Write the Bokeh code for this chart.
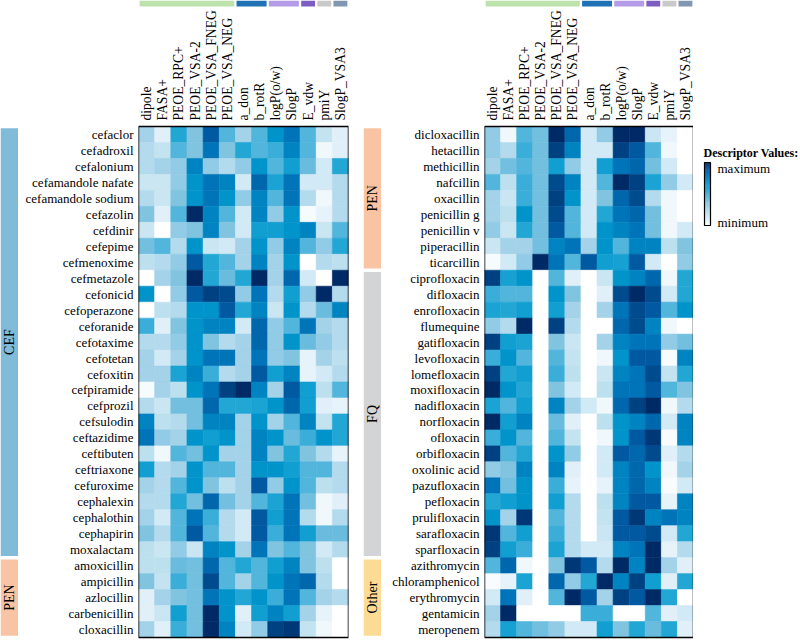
import numpy as np
from bokeh.plotting import figure
from bokeh.layouts import row
from bokeh.models import ColumnDataSource, LinearColorMapper, Range1d, FixedTicker
from bokeh.transform import transform
from bokeh.core.properties import value
from bokeh.embed import file_html
from bokeh.resources import INLINE

FONT = "Liberation Serif"

# ---------------- data ----------------
descriptors = ["dipole", "FASA+", "PEOE_RPC+", "PEOE_VSA-2", "PEOE_VSA_FNEG",
               "PEOE_VSA_NEG", "a_don", "b_rotR", "logP(o/w)", "SlogP",
               "E_vdw", "pmiY", "SlogP_VSA3"]
descriptor_group = ["A", "A", "A", "A", "A", "A", "B", "B", "C", "C", "D", "E", "F"]
descriptor_group_colors = {"A": "#bde2ab", "B": "#1f72b6", "C": "#b39be8",
                           "D": "#7d5cc3", "E": "#c9c9c9", "F": "#7f97b1"}

class_colors = {"CEF": "#80bcd8", "PEN": "#f8c4a4", "FQ": "#d2d4d5", "Other": "#fcdc94"}

left_drugs = ["cefaclor", "cefadroxil", "cefalonium", "cefamandole nafate",
              "cefamandole sodium", "cefazolin", "cefdinir", "cefepime",
              "cefmenoxime", "cefmetazole", "cefonicid", "cefoperazone",
              "ceforanide", "cefotaxime", "cefotetan", "cefoxitin",
              "cefpiramide", "cefprozil", "cefsulodin", "ceftazidime",
              "ceftibuten", "ceftriaxone", "cefuroxime", "cephalexin",
              "cephalothin", "cephapirin", "moxalactam", "amoxicillin",
              "ampicillin", "azlocillin", "carbenicillin", "cloxacillin"]
left_classes = ["CEF"] * 27 + ["PEN"] * 5

right_drugs = ["dicloxacillin", "hetacillin", "methicillin", "nafcillin",
               "oxacillin", "penicillin g", "penicillin v", "piperacillin",
               "ticarcillin", "ciprofloxacin", "difloxacin", "enrofloxacin",
               "flumequine", "gatifloxacin", "levofloxacin", "lomefloxacin",
               "moxifloxacin", "nadifloxacin", "norfloxacin", "ofloxacin",
               "orbifloxacin", "oxolinic acid", "pazufloxacin", "pefloxacin",
               "prulifloxacin", "sarafloxacin", "sparfloxacin", "azithromycin",
               "chloramphenicol", "erythromycin", "gentamicin", "meropenem"]
right_classes = ["PEN"] * 9 + ["FQ"] * 18 + ["Other"] * 5

# relative descriptor values (0 = minimum, 10 = maximum), one row per drug
left_values = [
    [3, 1, 6, 4, 9, 5, 3, 5, 7, 8, 5, 2, 1],
    [2.5, 2, 5, 4, 8, 4, 6, 5, 5.5, 7.5, 5, 0.5, 1],
    [2.5, 3, 3.5, 7.5, 3.5, 2.5, 3.5, 7, 5, 6.5, 4.5, 1.5, 6],
    [1.8, 1.8, 3.5, 7, 8, 7.5, 1.5, 8.5, 6.2, 8, 1.5, 1.5, 2.5],
    [2.5, 1.8, 4, 7, 8, 7, 3.5, 7.5, 5, 8, 2.5, 0.5, 2.5],
    [4, 1, 5, 10, 7.5, 5, 1.5, 7.5, 3.5, 7, 0.3, 0.8, 2.5],
    [1.8, 0, 3.5, 4, 7.5, 4, 1.5, 6.5, 6.5, 7, 7.5, 1.8, 5],
    [4.3, 5, 2.5, 7, 1.8, 1.5, 3, 7, 3.5, 7.5, 5, 3.5, 6],
    [2.2, 2.5, 3.5, 9, 6, 5, 3, 7.5, 3, 7, 0, 2.5, 2.2],
    [0, 3, 4, 10, 6, 4.5, 6, 10, 3, 8.5, 1.5, 0, 10],
    [7, 0, 3.5, 9, 9.5, 9.3, 3.5, 8, 2.5, 6.5, 3.5, 10, 2.5],
    [0, 2.2, 2.5, 7, 7, 9, 6, 7.5, 1.8, 7, 2.5, 4.5, 7.5],
    [5.5, 1, 4, 7, 7.5, 7.5, 1.5, 8.5, 3.5, 5, 8, 3, 2.5],
    [2.5, 2.5, 3.5, 7, 4, 2.5, 3, 8.5, 3.5, 7, 4.5, 3.5, 2.5],
    [3, 1.5, 3, 7, 8, 8, 3, 8, 3.5, 4, 0.8, 3, 2.2],
    [3, 3, 6.2, 7.5, 5.5, 2.5, 3, 9, 6.5, 7.5, 0.8, 1.5, 2.5],
    [0.3, 3, 2.2, 7, 8, 9.5, 10, 7.5, 3, 9, 6.5, 2.2, 5],
    [2.5, 1.8, 4.3, 4.3, 8.5, 6, 6, 6.2, 7, 8.5, 6.5, 1, 0.8],
    [7.5, 2.2, 2.5, 4.3, 7.5, 7.5, 3, 7, 3, 5, 7.5, 2, 6],
    [8, 3.5, 3, 7, 6.5, 7, 3, 7.5, 7, 4.5, 5.5, 7, 6],
    [2.2, 0.5, 5, 4.3, 7, 3, 3, 7.5, 4, 6, 4, 2.5, 0.8],
    [6.5, 2.5, 3, 7, 5, 5, 3, 7, 7, 6.5, 5, 5, 2.5],
    [3, 2.5, 5, 7, 4, 2.2, 3, 9, 3.5, 7, 5, 2.2, 2.5],
    [2.5, 2.5, 6, 4.3, 8.5, 4.3, 3, 5, 6.2, 8, 4.3, 0.5, 1],
    [3, 1.5, 5, 8, 5.5, 2.5, 1.5, 9, 6.5, 8, 2.5, 0.5, 2.5],
    [4, 2.5, 5, 9, 5, 2.5, 1.5, 9, 5.5, 8, 6.5, 4.5, 4.5],
    [2.2, 1.8, 3.5, 1.8, 7.5, 7, 3, 8, 4, 5, 4, 1.5, 2.5],
    [2.2, 2.2, 4.5, 4.3, 8.5, 5, 6, 5, 6.5, 7.5, 4, 2.2, 0],
    [4, 2, 5.5, 4.3, 9.3, 5, 3, 5, 7, 8, 8.5, 2.5, 0],
    [1, 3, 4, 4.3, 8, 7, 6, 7, 5.5, 8, 5, 3, 2.5],
    [1, 1.8, 6.5, 4.3, 10, 7, 1, 6.5, 7.5, 6.5, 3, 0.8, 0],
    [3, 1, 5.5, 4.3, 10, 7.5, 1.5, 3.5, 9.5, 9.7, 2, 0.5, 0],
]

right_values = [
    [3.5, 0.5, 5, 4.3, 10, 8.5, 1.5, 3.5, 10, 10, 1.8, 0.8, 0],
    [3.5, 2.5, 5.5, 4.3, 9.5, 7.5, 1.5, 1.5, 9.5, 9, 5, 0.5, 0],
    [3, 4.3, 5, 4.3, 6.5, 3.5, 1.5, 6.5, 8, 8.5, 4.3, 1.5, 0],
    [5, 2.2, 5.5, 4.3, 9.3, 7.5, 1.5, 5, 10, 9.5, 6.2, 3.5, 1.5],
    [3, 1.8, 5.5, 4.3, 9.5, 7, 1.5, 4, 8.5, 9.3, 2.5, 0.5, 0],
    [3, 2.2, 7, 4.3, 9.3, 5, 1.5, 6, 8, 8.5, 4.3, 0.5, 0],
    [3.5, 1.8, 6, 4.3, 9, 5, 1.5, 7, 7.5, 8, 4.3, 0.5, 1.5],
    [1.8, 3, 3, 4.3, 7.5, 8, 3, 7, 5, 7.5, 7.5, 2.2, 4],
    [0.3, 1.5, 3.5, 10, 8, 5, 9, 6.5, 6.3, 9, 1.5, 0, 3.5],
    [9.5, 6.3, 7, 0, 5, 1, 0, 1.8, 7, 7.5, 8.5, 0.5, 6],
    [5.5, 5, 5, 0, 7, 4, 0, 1, 9.3, 10, 9.3, 1.5, 6],
    [6.2, 6, 6.5, 0, 6.5, 3, 0, 3, 8, 9.3, 9, 5, 7],
    [3.5, 2.5, 10, 0, 9.5, 2.5, 0, 0, 8.5, 9.3, 7.5, 0.5, 0],
    [9.5, 6.5, 6.2, 0, 4, 1.8, 0, 3, 7.5, 8, 8, 3.5, 4.3],
    [5.5, 7, 5, 0, 5, 2, 0, 0.5, 7, 9, 9, 0.2, 7.5],
    [9.5, 6, 6.5, 0, 5.5, 2.2, 0, 1.8, 7.5, 8, 9.3, 2, 6],
    [10, 7, 6, 0, 4, 1.5, 0, 2.2, 8, 8, 9, 5, 4],
    [6.2, 5, 6.5, 0, 7.5, 3, 1.5, 0.5, 8.5, 9.5, 10, 0.5, 2.5],
    [10, 6.5, 7.5, 0, 4.5, 1, 0, 2.2, 7, 7.5, 8.5, 1.5, 7.5],
    [5.5, 7, 5, 0, 5, 2, 0, 0.5, 7, 9, 9.7, 0.2, 7.5],
    [9.5, 5, 6, 0, 7, 3.5, 0, 1.5, 9, 8.5, 9.3, 1, 2.5],
    [3.5, 4, 7.5, 0, 7.5, 1, 0, 1.5, 7.5, 8.5, 7, 0.5, 3],
    [8, 4.3, 7, 0, 5.5, 0.8, 0, 0.8, 7.5, 8.5, 7.5, 0.2, 1.5],
    [6, 6.5, 7, 0, 6.5, 2.5, 0, 2.2, 7.5, 9, 9, 0.8, 7.5],
    [7, 3, 9.7, 0, 5, 2.5, 0, 2, 9, 9.7, 7.5, 8, 7.5],
    [9.7, 5, 6.5, 0, 5.5, 2.5, 0, 1.8, 9, 9, 9.3, 1.5, 6],
    [9.5, 6.5, 5.5, 0, 6.2, 2.5, 1.5, 1.5, 7.5, 8, 10, 0.8, 2.5],
    [5, 8.5, 0.5, 0, 4, 9.7, 9, 2.5, 10, 7.5, 10, 3, 1],
    [0.2, 0.8, 6.2, 0, 8.5, 3.5, 6, 10, 7.5, 9.5, 6.5, 1, 6],
    [1.5, 8, 1, 0, 5, 10, 9, 3, 9.5, 9, 10, 6, 0],
    [3, 10, 0, 0, 0, 0, 5.5, 5.5, 0, 0, 5, 1, 1.5],
    [2.5, 6.3, 5, 4.3, 3.5, 1.5, 1.5, 6.5, 4, 6, 4.5, 6, 1],
]

value_low, value_high = 0, 10
anchor_values = [0, 1, 2, 3, 4, 5, 6, 7, 8, 9, 10]
anchor_colors = ["#ffffff", "#e0f0f8", "#c4e3f1", "#a2d2e9", "#80c4e0", "#52b5dc",
                 "#22a7d5", "#0095cb", "#0074b8", "#005aa2", "#002a66"]

# ---------------- palette ----------------
def hex2rgb(h):
    h = h.lstrip("#")
    return [int(h[i:i + 2], 16) for i in (0, 2, 4)]

rgb = np.array([hex2rgb(c) for c in anchor_colors], dtype=float)
steps = np.linspace(value_low, value_high, 256)
palette = []
for s in steps:
    r, g, b = (np.interp(s, anchor_values, rgb[:, k]) for k in range(3))
    palette.append("#%02x%02x%02x" % (int(round(r)), int(round(g)), int(round(b))))
mapper = LinearColorMapper(palette=palette, low=value_low, high=value_high)

# ---------------- layout constants (pixels) ----------------
TOTAL_W = 800
TOTAL_H = 641          # every figure fills the full height, frame = whole height
TOP_BAR_H = 6          # descriptor-class bar at the very top
HEAT_H = 511           # heatmap block height
BOTTOM_PAD = 4         # space below the heatmap
GROUP_W = 18
N_ROWS = len(left_drugs)
ROW_PX = HEAT_H / N_ROWS
Y_START = N_ROWS - 0.5 + BOTTOM_PAD / ROW_PX
Y_END = Y_START - TOTAL_H / ROW_PX       # data value at the top edge of the frame

HL_LEFT, HL_W, HL_RIGHT = 120, 210, 15
HR_LEFT, HR_W, HR_RIGHT = 103, 209, 0


def runs(labels):
    out = []
    start = 0
    for i in range(1, len(labels) + 1):
        if i == len(labels) or labels[i] != labels[start]:
            out.append((labels[start], start, i - 1))
            start = i
    return out


def bare(p):
    p.grid.visible = False
    p.outline_line_color = None
    p.background_fill_color = "white"
    p.border_fill_color = "white"


def heat_panel(drugs, vals, border_left, frame_w, border_right):
    n, m = len(drugs), len(descriptors)
    xs, ys, vs = [], [], []
    for i, rv in enumerate(vals):
        for j, v in enumerate(rv):
            xs.append(j)
            ys.append(i)
            vs.append(v)
    src = ColumnDataSource(dict(x=xs, y=ys, v=vs))
    p = figure(width=border_left + frame_w + border_right, height=TOTAL_H,
               x_range=Range1d(-0.5, m - 0.5), y_range=Range1d(Y_START, Y_END),
               x_axis_location=None, toolbar_location=None, output_backend="svg",
               min_border=0, min_border_left=border_left, min_border_right=border_right)
    bare(p)
    p.rect("x", "y", 1, 1, source=src, fill_color=transform("v", mapper),
           line_color=transform("v", mapper), line_width=0.6)
    p.quad(left=[-0.5], right=[m - 0.5], top=[-0.5], bottom=[n - 0.5],
           fill_color=None, line_color="black", line_width=1.5)

    # descriptor names (rotated) above the heatmap
    p.text(x=list(range(m)), y=[-0.5 - 6 / ROW_PX] * m, text=descriptors,
           angle=np.pi / 2, text_align="left", text_baseline="middle",
           text_font=value(FONT), text_font_size=value("13.6px"), text_color="black")

    # descriptor class bar at the top
    g = 0.07
    segs = runs(descriptor_group)
    p.quad(left=[s - 0.5 + g for _, s, e in segs], right=[e + 0.5 - g for _, s, e in segs],
           top=Y_END, bottom=Y_END + TOP_BAR_H / ROW_PX,
           fill_color=[descriptor_group_colors[k] for k, s, e in segs], line_color=None)

    ya = p.yaxis[0]
    ya.ticker = FixedTicker(ticks=list(range(n)))
    ya.major_label_overrides = {i: d for i, d in enumerate(drugs)}
    ya.axis_line_color = None
    ya.major_tick_line_color = None
    ya.minor_tick_line_color = None
    ya.major_tick_out = 0
    ya.major_tick_in = 0
    ya.minor_tick_out = 0
    ya.major_label_standoff = 5
    ya.major_label_text_font = FONT
    ya.major_label_text_font_size = "13px"
    ya.major_label_text_color = "black"
    return p


def group_panel(classes, y_range):
    gp = figure(width=GROUP_W, height=TOTAL_H, x_range=Range1d(0, 1), y_range=y_range,
                toolbar_location=None, output_backend="svg", x_axis_location=None,
                y_axis_location=None, min_border=0)
    bare(gp)
    g = 0.11
    segs = runs(classes)
    gp.quad(left=0, right=1, top=[s - 0.5 + g for _, s, e in segs],
            bottom=[e + 0.5 - g for _, s, e in segs],
            fill_color=[class_colors[k] for k, s, e in segs], line_color=None)
    gp.text(x=[0.5] * len(segs), y=[(s + e) / 2 for _, s, e in segs],
            text=[k for k, s, e in segs], angle=np.pi / 2, text_align="center",
            text_baseline="middle", text_font=value(FONT),
            text_font_size=value("14px"), text_color="black")
    return gp


hl = heat_panel(left_drugs, left_values, HL_LEFT, HL_W, HL_RIGHT)
hr = heat_panel(right_drugs, right_values, HR_LEFT, HR_W, HR_RIGHT)
gl = group_panel(left_classes, hl.y_range)
gr = group_panel(right_classes, hr.y_range)

# ---------------- legend ----------------
LEG_W = TOTAL_W - (GROUP_W + HL_LEFT + HL_W + HL_RIGHT + GROUP_W + HR_LEFT + HR_W + HR_RIGHT)
lg = figure(width=LEG_W, height=TOTAL_H, x_range=Range1d(0, LEG_W),
            y_range=Range1d(TOTAL_H, 0), toolbar_location=None, output_backend="svg",
            x_axis_location=None, y_axis_location=None, min_border=0)
bare(lg)
bar_left, bar_right, bar_top, bar_bottom = 11, 17, 162, 225
nsteps = 64
lvals = np.linspace(value_low, value_high, nsteps + 1)
edges = bar_bottom - (lvals - value_low) / (value_high - value_low) * (bar_bottom - bar_top)
mids = (lvals[:-1] + lvals[1:]) / 2
lsrc = ColumnDataSource(dict(b=edges[:-1], t=edges[1:], v=mids))
lg.quad(left=bar_left, right=bar_right, bottom="b", top="t", source=lsrc,
        fill_color=transform("v", mapper), line_color=transform("v", mapper), line_width=0.5)
lg.quad(left=bar_left, right=bar_right, bottom=bar_bottom, top=bar_top,
        fill_color=None, line_color="black", line_width=1.2)
lg.text(x=[10], y=[152], text=["Descriptor Values:"], text_font=value(FONT),
        text_font_size=value("12px"), text_font_style="bold", text_baseline="middle",
        text_align="left", text_color="black")
lg.text(x=[24, 24], y=[168, 222], text=["maximum", "minimum"], text_font=value(FONT),
        text_font_size=value("13px"), text_baseline="middle", text_align="left",
        text_color="black")

layout = row(gl, hl, gr, hr, lg, spacing=0)

open("out.html", "w").write(file_html(layout, INLINE))
